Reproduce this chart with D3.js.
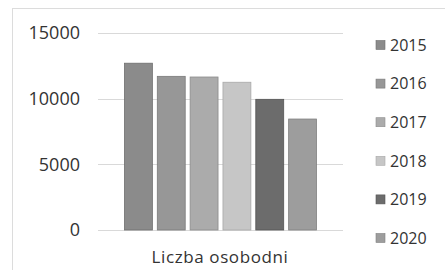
<!DOCTYPE html>
<html>
<head>
<meta charset="utf-8">
<script src="https://cdn.jsdelivr.net/npm/d3@7"></script>
<style>
  body { margin: 0; background: #fff; }
  svg { display: block; }
  text { font-family: 'Open Sans', sans-serif; fill: #333; }
</style>
</head>
<body>
<svg id="chart" width="445" height="270"></svg>
<script>
// data
const years = ['2015', '2016', '2017', '2018', '2019', '2020'];
const values = [12700, 11700, 11650, 11250, 9950, 8450];
const yTicks = [0, 5000, 10000, 15000];
const category = 'Liczba osobodni';
const colors = ['#8b8b8b', '#979797', '#ababab', '#c6c6c6', '#6c6c6c', '#9d9d9d'];
const strokes = ['#6f6f6f', '#7a7a7a', '#8c8c8c', '#a8a8a8', '#555555', '#808080'];

const margin = { top: 33, right: 102, bottom: 40, left: 98 };
const width = 445;
const height = 270;

const svg = d3.select('#chart');

// outer frame
svg.append('rect')
    .attr('x', 12.5)
    .attr('y', 8.5)
    .attr('width', 445)
    .attr('height', 270)
    .attr('fill', '#fff')
    .attr('stroke', '#dcdcdc');

const y = d3.scaleLinear()
    .domain([0, 15000])
    .range([height - margin.bottom, margin.top]);

const x = d3.scaleBand()
    .domain(years)
    .range([122, 319])
    .paddingInner(0.15)
    .paddingOuter(0.075);

// gridlines
svg.append('g')
    .attr('class', 'grid')
    .selectAll('line')
    .data(yTicks)
    .enter()
    .append('line')
        .attr('x1', margin.left)
        .attr('x2', width - margin.right)
        .attr('y1', d => Math.round(y(d)) + 0.5)
        .attr('y2', d => Math.round(y(d)) + 0.5)
        .attr('stroke', '#d9d9d9')
        .attr('stroke-width', 1);

// y axis labels
const yAxis = d3.axisLeft(y)
    .tickValues(yTicks)
    .tickSize(0)
    .tickPadding(0)
    .tickFormat(d3.format('d'));

const yg = svg.append('g')
    .attr('transform', 'translate(80,0)')
    .call(yAxis);
yg.select('.domain').remove();
yg.selectAll('text')
    .style('font-size', '18px')
    .attr('fill', '#333');

// bars
svg.append('g')
    .attr('class', 'bars')
    .selectAll('rect')
    .data(years)
    .enter()
    .append('rect')
        .attr('x', d => x(d))
        .attr('y', (d, i) => y(values[i]))
        .attr('width', x.bandwidth())
        .attr('height', (d, i) => y(0) - y(values[i]))
        .attr('fill', (d, i) => colors[i])
        .attr('stroke', (d, i) => strokes[i])
        .attr('stroke-width', 0.8);

// category label
svg.append('text')
    .attr('x', 220)
    .attr('y', 263)
    .attr('text-anchor', 'middle')
    .style('font-size', '17px')
    .style('letter-spacing', '0.6px')
    .text(category);

// legend
const legend = svg.append('g')
    .attr('class', 'legend')
    .selectAll('g')
    .data(years)
    .enter()
    .append('g')
        .attr('transform', (d, i) => `translate(376,${45 + i * 38.6})`);

legend.append('rect')
    .attr('x', 0)
    .attr('y', -4.5)
    .attr('width', 9)
    .attr('height', 9)
    .attr('fill', (d, i) => colors[i])
    .attr('stroke', (d, i) => strokes[i])
    .attr('stroke-width', 0.6);

legend.append('text')
    .attr('x', 14)
    .attr('dy', '0.36em')
    .style('font-size', '16px')
    .text(d => d);
</script>
</body>
</html>
